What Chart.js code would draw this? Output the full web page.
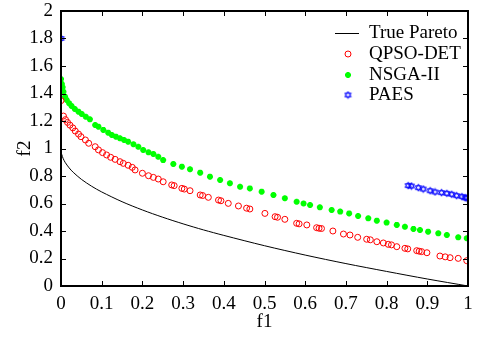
<!DOCTYPE html>
<html>
<head>
<meta charset="utf-8">
<script src="https://cdn.jsdelivr.net/npm/chart.js@4.4.1/dist/chart.umd.min.js"></script>
<style>
  html, body { margin: 0; padding: 0; background: #fff; }
  #wrap { width: 477px; height: 337px; }
</style>
</head>
<body>
<div id="wrap"><canvas id="pareto"></canvas></div>
<script>
// data
const trueF1 = [0, 0.002, 0.005, 0.01, 0.02, 0.03, 0.05, 0.075, 0.1, 0.15, 0.2, 0.25, 0.3, 0.35, 0.4, 0.5, 0.6, 0.7, 0.8, 0.9, 1];
const trueF2 = [0.97, 0.955, 0.929, 0.9, 0.859, 0.827, 0.776, 0.726, 0.684, 0.613, 0.553, 0.5, 0.452, 0.408, 0.368, 0.293, 0.225, 0.163, 0.106, 0.051, 0];

const qpsoF1 = [0, 0.006, 0.011, 0.016, 0.022, 0.029, 0.035, 0.043, 0.049, 0.06, 0.068, 0.084, 0.092, 0.102, 0.112, 0.122, 0.133, 0.145, 0.153, 0.165, 0.175, 0.182, 0.2, 0.215, 0.227, 0.239, 0.251, 0.272, 0.278, 0.297, 0.303, 0.317, 0.342, 0.348, 0.362, 0.387, 0.393, 0.411, 0.436, 0.456, 0.464, 0.501, 0.526, 0.532, 0.55, 0.579, 0.585, 0.604, 0.628, 0.634, 0.64, 0.668, 0.694, 0.71, 0.729, 0.751, 0.76, 0.776, 0.792, 0.804, 0.812, 0.825, 0.845, 0.852, 0.874, 0.88, 0.886, 0.899, 0.931, 0.944, 0.956, 0.976, 0.997];
const qpsoF2 = [1.348, 1.236, 1.21, 1.19, 1.17, 1.15, 1.127, 1.105, 1.086, 1.062, 1.038, 1.013, 0.99, 0.97, 0.953, 0.936, 0.921, 0.904, 0.892, 0.878, 0.863, 0.844, 0.82, 0.802, 0.79, 0.778, 0.758, 0.735, 0.73, 0.71, 0.705, 0.693, 0.662, 0.658, 0.645, 0.625, 0.62, 0.601, 0.582, 0.566, 0.56, 0.528, 0.504, 0.5, 0.485, 0.456, 0.452, 0.444, 0.424, 0.42, 0.418, 0.4, 0.378, 0.371, 0.354, 0.34, 0.336, 0.322, 0.313, 0.303, 0.299, 0.286, 0.274, 0.27, 0.257, 0.253, 0.25, 0.242, 0.218, 0.212, 0.206, 0.201, 0.184];

const nsgaF1 = [0, 0.002, 0.004, 0.006, 0.01, 0.014, 0.02, 0.026, 0.034, 0.043, 0.051, 0.061, 0.071, 0.084, 0.092, 0.104, 0.116, 0.125, 0.135, 0.145, 0.155, 0.165, 0.178, 0.19, 0.202, 0.215, 0.227, 0.239, 0.251, 0.276, 0.297, 0.317, 0.342, 0.366, 0.391, 0.415, 0.44, 0.464, 0.493, 0.522, 0.55, 0.579, 0.596, 0.612, 0.636, 0.665, 0.686, 0.708, 0.73, 0.755, 0.776, 0.8, 0.825, 0.845, 0.866, 0.882, 0.902, 0.927, 0.948, 0.976, 0.997];
const nsgaF2 = [1.505, 1.47, 1.445, 1.413, 1.377, 1.353, 1.329, 1.309, 1.287, 1.268, 1.251, 1.231, 1.212, 1.171, 1.159, 1.135, 1.115, 1.098, 1.086, 1.074, 1.062, 1.05, 1.031, 1.013, 0.989, 0.972, 0.96, 0.94, 0.916, 0.887, 0.868, 0.849, 0.824, 0.795, 0.771, 0.747, 0.722, 0.71, 0.686, 0.662, 0.638, 0.613, 0.6, 0.589, 0.572, 0.553, 0.541, 0.528, 0.509, 0.492, 0.475, 0.461, 0.444, 0.431, 0.415, 0.407, 0.395, 0.383, 0.371, 0.354, 0.347];

const paesF1 = [0, 0.853, 0.861, 0.878, 0.89, 0.907, 0.919, 0.935, 0.948, 0.96, 0.972, 0.985, 0.993, 0.997];
const paesF2 = [1.8, 0.73, 0.727, 0.715, 0.705, 0.693, 0.684, 0.679, 0.674, 0.667, 0.657, 0.65, 0.642, 0.64];

const xTicks = [0, 0.1, 0.2, 0.3, 0.4, 0.5, 0.6, 0.7, 0.8, 0.9, 1];
const yTicks = [0, 0.2, 0.4, 0.6, 0.8, 1, 1.2, 1.4, 1.6, 1.8, 2];
const seriesNames = ['True Pareto', 'QPSO-DET', 'NSGA-II', 'PAES'];

const FONT = "'Liberation Serif', 'Times New Roman', serif";

function pts(xs, ys) {
    return xs.map((x, i) => ({ x: x, y: ys[i] }));
}

// small hexagram marker (two triangles), no built-in style for it
function hexagram(color) {
    const c = document.createElement('canvas');
    c.width = 9; c.height = 9;
    const g = c.getContext('2d');
    g.strokeStyle = color;
    g.lineWidth = 1;
    const r = 3.6, cx = 4.5, cy = 4.5;
    [ -Math.PI / 2, Math.PI / 2 ].forEach(a0 => {
        g.beginPath();
        for (let k = 0; k < 3; k++) {
            const a = a0 + k * 2 * Math.PI / 3;
            const px = cx + r * Math.cos(a), py = cy + r * Math.sin(a);
            if (k === 0) g.moveTo(px, py); else g.lineTo(px, py);
        }
        g.closePath();
        g.stroke();
    });
    return c;
}
const hexBlue = hexagram('#0000ff');

// frame with inward ticks on all four sides, plus legend inside the plot
const framePlugin = {
    id: 'frame',
    afterDraw(chart) {
        const ctx = chart.ctx;
        const a = chart.chartArea;
        const xs = chart.scales.x, ys = chart.scales.y;
        ctx.save();
        ctx.strokeStyle = '#000';
        ctx.lineWidth = 1;
        ctx.beginPath();
        xTicks.forEach(v => {
            const px = Math.round(xs.getPixelForValue(v)) + 0.5;
            ctx.moveTo(px, a.bottom); ctx.lineTo(px, a.bottom - 5);
            ctx.moveTo(px, a.top); ctx.lineTo(px, a.top + 5);
        });
        yTicks.forEach(v => {
            const py = Math.round(ys.getPixelForValue(v)) + 0.5;
            ctx.moveTo(a.left, py); ctx.lineTo(a.left + 5, py);
            ctx.moveTo(a.right, py); ctx.lineTo(a.right - 5, py);
        });
        ctx.stroke();
        ctx.lineWidth = 2;
        ctx.strokeRect(a.left, a.top, a.right - a.left, a.bottom - a.top);

        // legend
        const lx = 348, tx = 369;
        const rows = [33, 54, 75, 95];
        ctx.font = '19px ' + FONT;
        ctx.fillStyle = '#000';
        ctx.textBaseline = 'middle';
        ctx.textAlign = 'left';
        rows.forEach((y, i) => ctx.fillText(seriesNames[i], tx, y));
        ctx.lineWidth = 1;
        ctx.strokeStyle = '#000';
        ctx.beginPath();
        ctx.moveTo(335, rows[0] + 0.5); ctx.lineTo(359, rows[0] + 0.5);
        ctx.stroke();
        ctx.strokeStyle = '#ff0000';
        ctx.beginPath();
        ctx.arc(lx, rows[1], 3, 0, Math.PI * 2);
        ctx.stroke();
        ctx.strokeStyle = '#00ff00';
        ctx.lineWidth = 2;
        Chart.helpers.drawPoint(ctx, { pointStyle: 'star', radius: 3, borderWidth: 2 }, lx, rows[2]);
        ctx.drawImage(hexBlue, lx - 4.5, rows[3] - 4.5);
        ctx.restore();
    }
};

new Chart(document.getElementById('pareto').getContext('2d'), {
    type: 'scatter',
    data: {
        datasets: [
            {
                label: seriesNames[0],
                data: pts(trueF1, trueF2),
                showLine: true,
                borderColor: '#000',
                borderWidth: 1,
                pointRadius: 0,
                tension: 0.3
            },
            {
                label: seriesNames[1],
                data: pts(qpsoF1, qpsoF2),
                pointStyle: 'circle',
                pointRadius: 3,
                borderWidth: 1,
                borderColor: '#ff0000',
                backgroundColor: 'rgba(0,0,0,0)'
            },
            {
                label: seriesNames[2],
                data: pts(nsgaF1, nsgaF2),
                pointStyle: 'star',
                pointRadius: 3,
                borderWidth: 2,
                borderColor: '#00ff00',
                backgroundColor: '#00ff00'
            },
            {
                label: seriesNames[3],
                data: pts(paesF1, paesF2),
                pointStyle: hexBlue,
                pointRadius: 4,
                borderColor: '#0000ff'
            }
        ]
    },
    options: {
        responsive: true,
        maintainAspectRatio: false,
        animation: false,
        layout: { padding: { top: 11, right: 9, left: 0, bottom: 0 } },
        scales: {
            x: {
                type: 'linear',
                min: 0,
                max: 1,
                afterFit: s => { s.height = 51; s.paddingLeft = 0; s.paddingRight = 0; },
                afterBuildTicks: s => { s.ticks = xTicks.map(v => ({ value: v })); },
                grid: { display: false, drawTicks: false },
                border: { display: false },
                ticks: {
                    padding: 7,
                    color: '#000',
                    font: { family: FONT, size: 19 },
                    maxRotation: 0,
                    callback: v => String(+v.toFixed(1))
                },
                title: {
                    display: true,
                    text: 'f1',
                    color: '#000',
                    font: { family: FONT, size: 19 },
                    padding: { top: 0, bottom: 4 }
                }
            },
            y: {
                type: 'linear',
                min: 0,
                max: 2,
                afterFit: s => { s.width = 61; s.paddingTop = 0; s.paddingBottom = 0; },
                afterBuildTicks: s => { s.ticks = yTicks.map(v => ({ value: v })); },
                grid: { display: false, drawTicks: false },
                border: { display: false },
                ticks: {
                    padding: 8,
                    color: '#000',
                    font: { family: FONT, size: 19 },
                    callback: v => String(+v.toFixed(1))
                },
                title: {
                    display: true,
                    text: 'f2',
                    color: '#000',
                    font: { family: FONT, size: 19 },
                    padding: { top: 14, bottom: 0 }
                }
            }
        },
        plugins: {
            legend: { display: false },
            tooltip: { enabled: false }
        }
    },
    plugins: [framePlugin]
});
</script>
</body>
</html>
